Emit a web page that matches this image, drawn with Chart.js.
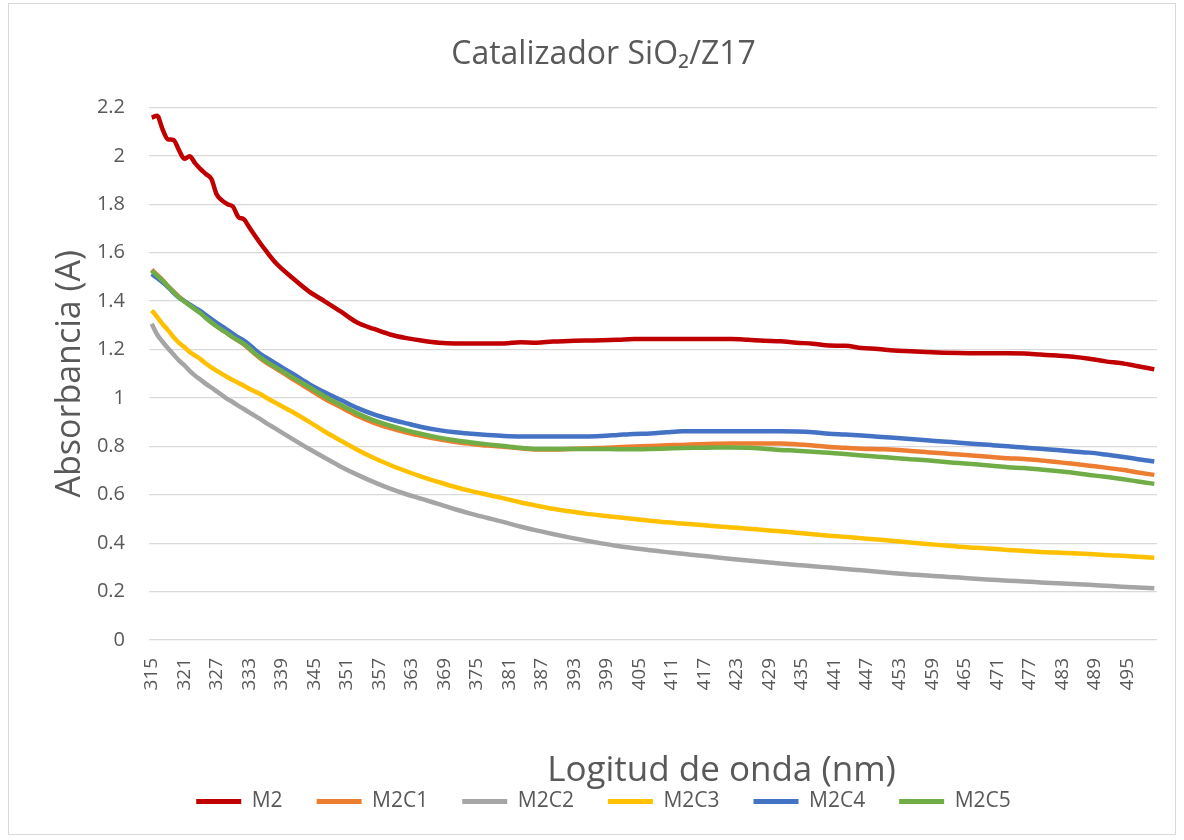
<!DOCTYPE html>
<html>
<head>
<meta charset="utf-8">
<script src="https://cdn.jsdelivr.net/npm/chart.js@4.4.1/dist/chart.umd.min.js"></script>
<style>
  body { margin: 0; background: #fff; }
  #frame { position: absolute; left: 8px; top: 3px; width: 1168px; height: 832px; border: 1px solid #d9d9d9; box-sizing: border-box; }
  canvas { display: block; }
</style>
</head>
<body>
<div id="frame"><canvas id="chart" width="1166" height="830"></canvas></div>
<script>
const chartTitle = 'Catalizador SiO\u2082/Z17';
const yTitle = 'Absorbancia (A)';
const xTitle = 'Logitud de onda (nm)';

// longitud de onda (nm)
const wavelengths = [
  315, 316, 317, 318, 319, 320, 321, 322, 323, 324, 325, 326, 327, 328, 329, 330, 331, 332, 333, 334, 335, 336,
  338, 341, 344, 347, 350, 353, 356, 359, 362, 365,
  368, 371, 374, 377, 380, 383, 386, 389, 392, 395,
  398, 401, 404, 407, 410, 413, 416, 419, 422, 425,
  428, 431, 434, 437, 440, 443, 446, 449, 452, 455,
  458, 461, 464, 467, 470, 473, 476, 479, 482, 485,
  488, 491, 494, 497, 500
];
const xTicks = [315, 321, 327, 333, 339, 345, 351, 357, 363, 369, 375, 381, 387, 393, 399, 405, 411, 417, 423, 429, 435, 441, 447, 453, 459, 465, 471, 477, 483, 489, 495];

const seriesNames = ['M2', 'M2C1', 'M2C2', 'M2C3', 'M2C4', 'M2C5'];

const m2 = [
  2.158, 2.165, 2.110, 2.068, 2.066, 2.025, 1.988, 1.998, 1.970, 1.945, 1.925, 1.905, 1.840, 1.815, 1.800, 1.790, 1.747, 1.738, 1.705, 1.672, 1.640, 1.610,
  1.555, 1.495, 1.440, 1.398, 1.355, 1.310, 1.285, 1.262, 1.247, 1.236,
  1.228, 1.225, 1.225, 1.225, 1.225, 1.230, 1.228, 1.233, 1.235, 1.237,
  1.238, 1.240, 1.243, 1.243, 1.243, 1.243, 1.243, 1.243, 1.243, 1.240,
  1.236, 1.234, 1.228, 1.224, 1.216, 1.215, 1.206, 1.202, 1.196, 1.193,
  1.190, 1.187, 1.185, 1.184, 1.184, 1.184, 1.183, 1.179, 1.175, 1.170,
  1.162, 1.151, 1.143, 1.131, 1.118
];
const m2c1 = [
  1.530, 1.508, 1.487, 1.462, 1.440, 1.418, 1.400, 1.384, 1.368, 1.352, 1.332, 1.314, 1.297, 1.281, 1.266, 1.250, 1.236, 1.221, 1.202, 1.182, 1.164, 1.148,
  1.120, 1.078, 1.036, 0.995, 0.960, 0.925, 0.897, 0.875, 0.857, 0.842,
  0.829, 0.818, 0.810, 0.803, 0.798, 0.792, 0.787, 0.787, 0.789, 0.791,
  0.793, 0.796, 0.799, 0.801, 0.804, 0.806, 0.809, 0.811, 0.812, 0.812,
  0.812, 0.812, 0.809, 0.803, 0.797, 0.794, 0.790, 0.788, 0.786, 0.781,
  0.776, 0.771, 0.766, 0.761, 0.756, 0.751, 0.748, 0.742, 0.735, 0.728,
  0.720, 0.712, 0.703, 0.692, 0.682
];
const m2c2 = [
  1.306, 1.262, 1.232, 1.205, 1.180, 1.155, 1.135, 1.112, 1.092, 1.075, 1.058, 1.043, 1.027, 1.011, 0.995, 0.982, 0.967, 0.954, 0.940, 0.927, 0.913, 0.898,
  0.871, 0.830, 0.790, 0.752, 0.715, 0.682, 0.652, 0.625, 0.602, 0.582,
  0.561, 0.540, 0.521, 0.504, 0.487, 0.469, 0.453, 0.438, 0.424, 0.411,
  0.399, 0.388, 0.379, 0.371, 0.363, 0.356, 0.349, 0.342, 0.335, 0.328,
  0.322, 0.316, 0.310, 0.305, 0.299, 0.293, 0.288, 0.282, 0.276, 0.271,
  0.266, 0.262, 0.258, 0.253, 0.249, 0.245, 0.242, 0.238, 0.234, 0.231,
  0.228, 0.224, 0.220, 0.217, 0.214
];
const m2c3 = [
  1.361, 1.335, 1.305, 1.280, 1.252, 1.228, 1.210, 1.190, 1.175, 1.160, 1.142, 1.126, 1.112, 1.098, 1.085, 1.073, 1.062, 1.050, 1.038, 1.027, 1.016, 1.003,
  0.978, 0.942, 0.902, 0.860, 0.822, 0.785, 0.752, 0.723, 0.697, 0.673,
  0.652, 0.632, 0.615, 0.600, 0.585, 0.569, 0.555, 0.542, 0.532, 0.522,
  0.514, 0.507, 0.500, 0.493, 0.486, 0.481, 0.476, 0.470, 0.465, 0.460,
  0.454, 0.449, 0.443, 0.437, 0.431, 0.426, 0.420, 0.415, 0.409, 0.403,
  0.397, 0.391, 0.385, 0.381, 0.377, 0.372, 0.368, 0.364, 0.361, 0.358,
  0.355, 0.351, 0.348, 0.344, 0.340
];
const m2c4 = [
  1.512, 1.495, 1.478, 1.458, 1.435, 1.415, 1.400, 1.386, 1.372, 1.358, 1.342, 1.326, 1.310, 1.295, 1.280, 1.265, 1.250, 1.237, 1.220, 1.200, 1.182, 1.168,
  1.140, 1.100, 1.058, 1.022, 0.990, 0.958, 0.932, 0.912, 0.895, 0.879,
  0.867, 0.858, 0.852, 0.847, 0.843, 0.841, 0.841, 0.841, 0.841, 0.841,
  0.843, 0.847, 0.851, 0.853, 0.858, 0.862, 0.862, 0.862, 0.862, 0.862,
  0.862, 0.862, 0.861, 0.858, 0.852, 0.849, 0.845, 0.840, 0.835, 0.830,
  0.825, 0.820, 0.815, 0.810, 0.805, 0.800, 0.795, 0.790, 0.785, 0.779,
  0.774, 0.766, 0.757, 0.747, 0.737
];
const m2c5 = [
  1.526, 1.505, 1.485, 1.460, 1.438, 1.415, 1.398, 1.382, 1.366, 1.350, 1.330, 1.312, 1.295, 1.280, 1.266, 1.250, 1.237, 1.223, 1.205, 1.185, 1.168, 1.152,
  1.125, 1.085, 1.045, 1.005, 0.970, 0.935, 0.907, 0.885, 0.866, 0.850,
  0.836, 0.825, 0.816, 0.808, 0.801, 0.794, 0.789, 0.789, 0.789, 0.789,
  0.789, 0.788, 0.788, 0.789, 0.791, 0.793, 0.794, 0.795, 0.795, 0.794,
  0.790, 0.785, 0.782, 0.778, 0.773, 0.768, 0.762, 0.757, 0.752, 0.747,
  0.742, 0.736, 0.731, 0.726, 0.720, 0.714, 0.710, 0.704, 0.698, 0.691,
  0.682, 0.674, 0.665, 0.655, 0.645
];

const seriesValues = [m2, m2c1, m2c2, m2c3, m2c4, m2c5];
const colors = ['#C00000', '#ED7D31', '#A5A5A5', '#FFC000', '#4472C4', '#70AD47'];

const family = '"Open Sans", "Noto Sans", "DejaVu Sans", sans-serif';
const textColor = '#595959';

// titulo del eje x (desplazado a la derecha como en el original)
const xTitlePlugin = {
  id: 'xTitle',
  afterDraw(chart) {
    const { ctx, chartArea } = chart;
    ctx.save();
    ctx.font = '35px ' + family;
    ctx.fillStyle = textColor;
    ctx.textAlign = 'center';
    ctx.textBaseline = 'middle';
    ctx.fillText(xTitle, chartArea.left + (chartArea.right - chartArea.left) * 0.568, chartArea.bottom + 131);
    ctx.restore();
  }
};

const ctx = document.getElementById('chart').getContext('2d');
new Chart(ctx, {
  type: 'line',
  data: {
    datasets: seriesNames.map((name, i) => ({
      label: name,
      data: wavelengths.map((w, j) => ({ x: w, y: seriesValues[i][j] })),
      borderColor: colors[i],
      backgroundColor: colors[i],
      borderWidth: 4.5,
      pointRadius: 0,
      cubicInterpolationMode: 'monotone',
      order: seriesNames.length - 1 - i
    }))
  },
  options: {
    responsive: false,
    animation: false,
    layout: { padding: { left: 41, right: 18, top: 0, bottom: 12 } },
    plugins: {
      title: {
        display: true,
        text: chartTitle,
        color: textColor,
        font: { family, size: 32, weight: 'normal' },
        padding: { top: 32, bottom: 33 }
      },
      legend: {
        position: 'bottom',
        labels: {
          boxWidth: 45,
          boxHeight: 5,
          color: textColor,
          font: { family, size: 21 },
          padding: 34,
          sort: (a, b) => a.datasetIndex - b.datasetIndex,
          generateLabels: chart => Chart.defaults.plugins.legend.labels.generateLabels(chart).map(l => ({ ...l, lineWidth: 0 }))
        }
      },
      tooltip: { enabled: false }
    },
    scales: {
      x: {
        type: 'linear',
        min: 314.5,
        max: 500.5,
        afterBuildTicks: axis => { axis.ticks = xTicks.map(v => ({ value: v })); },
        afterFit: axis => { axis.height = 117; },
        ticks: {
          autoSkip: false,
          minRotation: 90,
          maxRotation: 90,
          color: textColor,
          font: { family, size: 19 },
          padding: 10,
          callback: v => String(v)
        },
        grid: { display: false },
        border: { display: false }
      },
      y: {
        min: 0,
        max: 2.2,
        afterFit: axis => { axis.width = 99; },
        ticks: {
          stepSize: 0.2,
          color: textColor,
          font: { family, size: 20 },
          padding: 24,
          callback: v => String(Math.round(v * 10) / 10)
        },
        grid: { color: '#d9d9d9', lineWidth: 1.3, drawTicks: false },
        border: { display: false },
        title: {
          display: true,
          text: yTitle,
          color: textColor,
          font: { family, size: 34 },
          padding: { top: 0, bottom: 14 }
        }
      }
    }
  },
  plugins: [xTitlePlugin]
});
</script>
</body>
</html>
